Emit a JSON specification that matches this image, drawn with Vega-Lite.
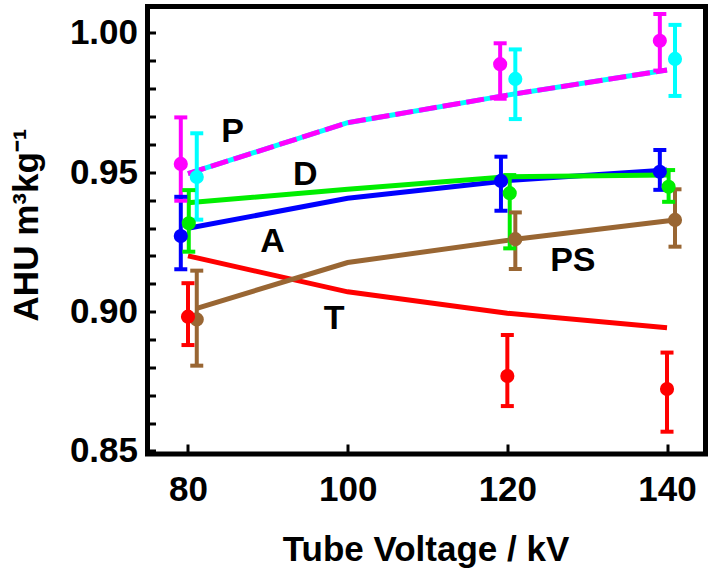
{
  "$schema": "https://vega.github.io/schema/vega-lite/v6.json",
  "width": 558,
  "height": 447.5,
  "autosize": {"type": "none"},
  "padding": {"left": 147.5, "top": 6.5, "right": 8.5, "bottom": 121},
  "background": "white",
  "config": {
    "view": {"stroke": "black", "strokeWidth": 5},
    "font": "Liberation Sans",
    "axis": {"grid": false, "domain": false, "tickColor": "black", "tickWidth": 3, "labelColor": "black", "titleColor": "black", "labelFont": "Liberation Sans", "titleFont": "Liberation Sans", "labelFontWeight": "bold", "titleFontWeight": "bold", "labelOverlap": false, "labelFlush": false},
    "axisX": {"tickSize": -10, "labelFontSize": 35, "labelBaseline": "alphabetic", "labelPadding": 56, "titleFontSize": 35, "titleBaseline": "alphabetic", "titleY": 106, "titleX": 278, "titleAlign": "center", "titleAnchor": "middle"},
    "axisY": {"tickSize": -8, "labelFontSize": 35, "labelPadding": 18, "labelBaseline": "middle", "titleFontSize": 35, "titleAngle": 270, "titleBaseline": "alphabetic", "titleAlign": "center", "titleX": -110, "titleY": 218}
  },
  "datasets": {
    "pts": [
      {"series": "P", "kv": 79.1, "v": 0.953, "lo": 0.9398, "hi": 0.9697},
      {"series": "P", "kv": 119.1, "v": 0.9888, "lo": 0.9764, "hi": 0.9963},
      {"series": "P", "kv": 139.1, "v": 0.9972, "lo": 0.9865, "hi": 1.0068},
      {"series": "C", "kv": 81.1, "v": 0.9483, "lo": 0.933, "hi": 0.964},
      {"series": "C", "kv": 121, "v": 0.9835, "lo": 0.9691, "hi": 0.9941},
      {"series": "C", "kv": 141, "v": 0.9907, "lo": 0.9774, "hi": 1.0029},
      {"series": "D", "kv": 80.1, "v": 0.9317, "lo": 0.9215, "hi": 0.9436},
      {"series": "D", "kv": 120.3, "v": 0.9425, "lo": 0.9227, "hi": 0.949},
      {"series": "D", "kv": 140.2, "v": 0.9448, "lo": 0.9394, "hi": 0.9508},
      {"series": "A", "kv": 79.1, "v": 0.9271, "lo": 0.9152, "hi": 0.9412},
      {"series": "A", "kv": 119.2, "v": 0.9469, "lo": 0.9362, "hi": 0.9556},
      {"series": "A", "kv": 139.1, "v": 0.9502, "lo": 0.9437, "hi": 0.958},
      {"series": "PS", "kv": 81.1, "v": 0.8972, "lo": 0.8806, "hi": 0.9147},
      {"series": "PS", "kv": 121, "v": 0.926, "lo": 0.9153, "hi": 0.9356},
      {"series": "PS", "kv": 141, "v": 0.9329, "lo": 0.9233, "hi": 0.9439},
      {"series": "T", "kv": 80, "v": 0.8982, "lo": 0.888, "hi": 0.9102},
      {"series": "T", "kv": 120, "v": 0.8769, "lo": 0.8661, "hi": 0.8916},
      {"series": "T", "kv": 140, "v": 0.8722, "lo": 0.8569, "hi": 0.8853}
    ],
    "lines": [
      {"series": "T", "kv": 80, "v": 0.92},
      {"series": "T", "kv": 100, "v": 0.9071},
      {"series": "T", "kv": 120, "v": 0.8994},
      {"series": "T", "kv": 140, "v": 0.8942},
      {"series": "PS", "kv": 81.1, "v": 0.9012},
      {"series": "PS", "kv": 100, "v": 0.9176},
      {"series": "PS", "kv": 121, "v": 0.926},
      {"series": "PS", "kv": 141, "v": 0.9329},
      {"series": "A", "kv": 80, "v": 0.9299},
      {"series": "A", "kv": 100, "v": 0.9407},
      {"series": "A", "kv": 120, "v": 0.947},
      {"series": "A", "kv": 140, "v": 0.9508},
      {"series": "D", "kv": 80, "v": 0.9391},
      {"series": "D", "kv": 100, "v": 0.9439},
      {"series": "D", "kv": 120, "v": 0.9484},
      {"series": "D", "kv": 140, "v": 0.949},
      {"series": "P", "kv": 80, "v": 0.9495},
      {"series": "P", "kv": 100, "v": 0.9678},
      {"series": "P", "kv": 120, "v": 0.9777},
      {"series": "P", "kv": 140, "v": 0.9867}
    ],
    "labels": [
      {"label": "P", "kv": 85.6, "v": 0.9646},
      {"label": "D", "kv": 94.7, "v": 0.949},
      {"label": "A", "kv": 90.6, "v": 0.925},
      {"label": "T", "kv": 98.3, "v": 0.8975},
      {"label": "PS", "kv": 128.2, "v": 0.918}
    ]
  },
  "layer": [
    {
      "data": {"name": "lines"},
      "transform": [{"filter": "datum.series != 'P'"}],
      "mark": {"type": "line", "strokeWidth": 5},
      "encoding": {
        "x": {"field": "kv", "type": "quantitative", "scale": {"domain": [74.93, 144.82], "nice": false, "zero": false},
          "axis": {"values": [80, 100, 120, 140], "title": "Tube Voltage / kV"}},
        "y": {"field": "v", "type": "quantitative", "scale": {"domain": [0.8489, 1.0095], "nice": false, "zero": false},
          "axis": {"values": [0.85, 0.86, 0.87, 0.88, 0.89, 0.9, 0.91, 0.92, 0.93, 0.94, 0.95, 0.96, 0.97, 0.98, 0.99, 1.0], "labelExpr": "round(datum.value*100) % 5 == 0 ? format(datum.value, '.2f') : ''", "title": "AHU m³kg⁻¹"}},
        "color": {"field": "series", "type": "nominal", "scale": {"domain": ["T", "PS", "A", "D", "P", "C"], "range": ["#ff0000", "#996633", "#0000ff", "#00ee00", "#ff00ff", "#00ffff"]}, "legend": null},
        "detail": {"field": "series"}
      }
    },
    {
      "data": {"name": "lines"},
      "transform": [{"filter": "datum.series == 'P'"}],
      "mark": {"type": "line", "strokeWidth": 5, "color": "#00ffff"},
      "encoding": {
        "x": {"field": "kv", "type": "quantitative", "axis": {"values": [80, 100, 120, 140], "title": "Tube Voltage / kV"}},
        "y": {"field": "v", "type": "quantitative", "axis": {"values": [0.85, 0.86, 0.87, 0.88, 0.89, 0.9, 0.91, 0.92, 0.93, 0.94, 0.95, 0.96, 0.97, 0.98, 0.99, 1.0], "labelExpr": "round(datum.value*100) % 5 == 0 ? format(datum.value, '.2f') : ''", "title": "AHU m³kg⁻¹"}}
      }
    },
    {
      "data": {"name": "lines"},
      "transform": [{"filter": "datum.series == 'P'"}],
      "mark": {"type": "line", "strokeWidth": 5, "color": "#ff00ff", "strokeDash": [18, 6]},
      "encoding": {
        "x": {"field": "kv", "type": "quantitative", "axis": {"values": [80, 100, 120, 140], "title": "Tube Voltage / kV"}},
        "y": {"field": "v", "type": "quantitative", "axis": {"values": [0.85, 0.86, 0.87, 0.88, 0.89, 0.9, 0.91, 0.92, 0.93, 0.94, 0.95, 0.96, 0.97, 0.98, 0.99, 1.0], "labelExpr": "round(datum.value*100) % 5 == 0 ? format(datum.value, '.2f') : ''", "title": "AHU m³kg⁻¹"}}
      }
    },
    {
      "data": {"name": "pts"},
      "mark": {"type": "rule", "strokeWidth": 4},
      "encoding": {
        "x": {"field": "kv", "type": "quantitative", "axis": {"values": [80, 100, 120, 140], "title": "Tube Voltage / kV"}},
        "y": {"field": "lo", "type": "quantitative", "axis": {"values": [0.85, 0.86, 0.87, 0.88, 0.89, 0.9, 0.91, 0.92, 0.93, 0.94, 0.95, 0.96, 0.97, 0.98, 0.99, 1.0], "labelExpr": "round(datum.value*100) % 5 == 0 ? format(datum.value, '.2f') : ''", "title": "AHU m³kg⁻¹"}},
        "y2": {"field": "hi"},
        "color": {"field": "series", "type": "nominal", "legend": null}
      }
    },
    {
      "data": {"name": "pts"},
      "mark": {"type": "tick", "orient": "horizontal", "size": 13, "thickness": 4, "opacity": 1},
      "encoding": {
        "x": {"field": "kv", "type": "quantitative", "axis": {"values": [80, 100, 120, 140], "title": "Tube Voltage / kV"}},
        "y": {"field": "lo", "type": "quantitative", "axis": {"values": [0.85, 0.86, 0.87, 0.88, 0.89, 0.9, 0.91, 0.92, 0.93, 0.94, 0.95, 0.96, 0.97, 0.98, 0.99, 1.0], "labelExpr": "round(datum.value*100) % 5 == 0 ? format(datum.value, '.2f') : ''", "title": "AHU m³kg⁻¹"}},
        "color": {"field": "series", "type": "nominal", "legend": null}
      }
    },
    {
      "data": {"name": "pts"},
      "mark": {"type": "tick", "orient": "horizontal", "size": 13, "thickness": 4, "opacity": 1},
      "encoding": {
        "x": {"field": "kv", "type": "quantitative", "axis": {"values": [80, 100, 120, 140], "title": "Tube Voltage / kV"}},
        "y": {"field": "hi", "type": "quantitative", "axis": {"values": [0.85, 0.86, 0.87, 0.88, 0.89, 0.9, 0.91, 0.92, 0.93, 0.94, 0.95, 0.96, 0.97, 0.98, 0.99, 1.0], "labelExpr": "round(datum.value*100) % 5 == 0 ? format(datum.value, '.2f') : ''", "title": "AHU m³kg⁻¹"}},
        "color": {"field": "series", "type": "nominal", "legend": null}
      }
    },
    {
      "data": {"name": "pts"},
      "mark": {"type": "circle", "size": 200, "opacity": 1},
      "encoding": {
        "x": {"field": "kv", "type": "quantitative", "axis": {"values": [80, 100, 120, 140], "title": "Tube Voltage / kV"}},
        "y": {"field": "v", "type": "quantitative", "axis": {"values": [0.85, 0.86, 0.87, 0.88, 0.89, 0.9, 0.91, 0.92, 0.93, 0.94, 0.95, 0.96, 0.97, 0.98, 0.99, 1.0], "labelExpr": "round(datum.value*100) % 5 == 0 ? format(datum.value, '.2f') : ''", "title": "AHU m³kg⁻¹"}},
        "color": {"field": "series", "type": "nominal", "legend": null}
      }
    },
    {
      "data": {"name": "labels"},
      "mark": {"type": "text", "fontSize": 34, "fontWeight": "bold", "font": "Liberation Sans", "color": "black", "align": "center", "baseline": "middle"},
      "encoding": {
        "x": {"field": "kv", "type": "quantitative", "axis": {"values": [80, 100, 120, 140], "title": "Tube Voltage / kV"}},
        "y": {"field": "v", "type": "quantitative", "axis": {"values": [0.85, 0.86, 0.87, 0.88, 0.89, 0.9, 0.91, 0.92, 0.93, 0.94, 0.95, 0.96, 0.97, 0.98, 0.99, 1.0], "labelExpr": "round(datum.value*100) % 5 == 0 ? format(datum.value, '.2f') : ''", "title": "AHU m³kg⁻¹"}},
        "text": {"field": "label"}
      }
    }
  ]
}
